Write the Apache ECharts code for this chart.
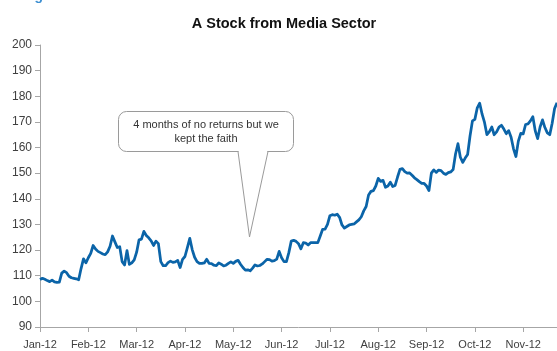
<!DOCTYPE html>
<html>
<head>
<meta charset="utf-8">
<script src="https://cdn.jsdelivr.net/npm/echarts@6/dist/echarts.min.js"></script>
<style>
  html, body { margin: 0; padding: 0; background: #fff; }
  #chart { width: 557px; height: 351px; }
</style>
</head>
<body>
<div id="chart"></div>
<script>
// Month tick labels along the time axis
const months = ['Jan-12', 'Feb-12', 'Mar-12', 'Apr-12', 'May-12', 'Jun-12',
                'Jul-12', 'Aug-12', 'Sep-12', 'Oct-12', 'Nov-12', 'Dec-12'];
// Trading sessions shown per month on the axis
const sessionsPerMonth = 20;

// Daily closing prices
const prices = [
  108.5, 109.0, 108.6, 108.1, 107.7, 108.3, 107.6, 107.4, 107.5, 111.0,
  111.8, 111.2, 109.8, 109.2, 109.0, 108.8, 108.4, 112.8, 116.6, 115.0,
  117.0, 118.7, 121.8, 120.4, 119.5, 119.0, 118.5, 118.2, 119.3, 121.5,
  125.5, 123.2, 121.0, 121.3, 115.5, 114.2, 119.8, 114.4, 115.0, 116.2,
  119.2, 124.0, 124.3, 127.3, 125.7, 124.8, 123.6, 121.8, 123.5, 122.5,
  115.5, 113.9, 113.9, 115.1, 115.7, 115.2, 115.4, 116.0, 113.2, 116.4,
  117.5, 121.0, 124.6, 120.2, 117.2, 115.5, 114.8, 114.8, 115.0, 116.4,
  114.8, 114.7, 114.1, 113.9, 115.0, 114.5, 113.8, 114.1, 114.8, 115.4,
  114.8, 115.6, 116.0, 114.5, 113.2, 112.2, 112.3, 111.9, 113.0, 114.2,
  113.8, 114.0, 114.6, 115.5, 116.4, 116.3, 115.7, 115.9, 116.5, 119.5,
  117.0, 115.5, 115.5, 119.0, 123.5, 123.8, 123.4, 122.5, 120.5, 122.9,
  122.7, 122.0, 122.9, 122.9, 122.9, 122.9, 125.5, 128.1, 128.2, 130.0,
  133.4, 133.8, 133.6, 134.0, 132.8, 129.8, 128.6, 129.2, 129.8, 130.0,
  130.2, 131.0, 131.8, 133.0, 135.3, 137.0, 141.5, 142.9, 143.2, 145.0,
  148.0, 146.8, 147.2, 144.5, 145.0, 146.5, 144.8, 145.2, 148.5, 151.5,
  151.8, 150.6, 150.0, 150.1, 149.2, 148.2, 147.5, 146.7, 146.0, 146.0,
  145.0, 143.2, 150.0, 151.3, 150.3, 151.2, 151.0, 150.0, 149.5, 150.2,
  150.5, 151.4, 157.5, 161.5, 156.2, 154.2, 155.9, 157.3, 164.5, 170.4,
  171.0, 175.5, 177.3, 173.0, 169.8, 165.0, 166.2, 168.0, 165.0, 166.1,
  168.0, 168.7, 167.2, 165.4, 166.6, 164.0, 159.5, 156.5, 162.5, 165.5,
  165.3, 169.0, 169.2, 170.4, 172.0, 166.5, 163.5, 168.0, 170.8, 167.8,
  165.7, 165.0, 169.5, 175.2, 177.5
];

// One category per session; the first session of each month carries the month name
const categories = prices.map((_, i) => {
  const m = months[Math.floor(i / sessionsPerMonth)];
  return i % sessionsPerMonth === 0 ? m : m + ' #' + (i % sessionsPerMonth + 1);
});

const annotationLines = ['4 months of no returns but we', 'kept the faith'];

const axisGrey = '#a6a6a6';
const labelColor = '#404040';
const fontFamily = 'Liberation Sans, Arial, sans-serif';
const bubbleStroke = '#9a9a9a';

const chart = echarts.init(document.getElementById('chart'), null, { renderer: 'canvas' });

chart.setOption({
  animation: false,
  backgroundColor: '#ffffff',
  title: {
    text: 'A Stock from Media Sector',
    left: 279,
    top: 11,
    textAlign: 'center',
    textStyle: { fontFamily, fontSize: 14.5, fontWeight: 'bold', color: '#111111' }
  },
  grid: { left: 40, right: 0, top: 45, bottom: 24, containLabel: false },
  xAxis: {
    type: 'category',
    data: categories,
    boundaryGap: false,
    axisLine: { lineStyle: { color: axisGrey, width: 1 } },
    axisTick: { interval: sessionsPerMonth - 1, length: 5, lineStyle: { color: axisGrey } },
    axisLabel: {
      interval: sessionsPerMonth - 1,
      margin: 12,
      color: labelColor,
      fontFamily,
      fontSize: 11,
      // month names only at month starts
      formatter: (value) => (months.indexOf(value) >= 0 ? value : '')
    },
    splitLine: { show: false }
  },
  yAxis: {
    type: 'value',
    min: 90,
    max: 200,
    interval: 10,
    axisLine: { show: true, lineStyle: { color: axisGrey, width: 1 } },
    axisTick: { show: true, length: 5, lineStyle: { color: axisGrey } },
    axisLabel: { margin: 8, color: labelColor, fontFamily, fontSize: 12 },
    splitLine: { show: false }
  },
  series: [{
    type: 'line',
    data: prices,
    showSymbol: false,
    smooth: false,
    lineStyle: { color: '#0b64a8', width: 2.75, join: 'round' },
    itemStyle: { color: '#0b64a8' }
  }],
  graphic: [
    {
      // Cut-off heading strip at the top-left corner
      type: 'text',
      x: 22,
      y: -11,
      style: { text: 'Figure', fill: '#3d8fd1', font: 'bold 14px ' + fontFamily }
    },
    {
      // Speech-bubble body
      type: 'rect',
      shape: { x: 118.5, y: 111.5, width: 175, height: 40, r: 8 },
      style: { fill: '#ffffff', stroke: bubbleStroke, lineWidth: 1 },
      z: 10
    },
    {
      // Fill of the pointer, hiding the body's bottom edge where it joins
      type: 'polygon',
      shape: { points: [[238.5, 150.5], [249.5, 236], [267.5, 150.5]] },
      style: { fill: '#ffffff' },
      z: 11
    },
    {
      // Pointer outline
      type: 'polyline',
      shape: { points: [[238, 151.5], [249.5, 237], [268, 151.5]] },
      style: { fill: null, stroke: bubbleStroke, lineWidth: 1 },
      z: 12
    },
    {
      type: 'text',
      x: 206,
      y: 118,
      z: 13,
      style: {
        text: annotationLines.join('\n'),
        fill: '#333333',
        font: '11px ' + fontFamily,
        align: 'center',
        lineHeight: 14
      }
    }
  ]
});
</script>
</body>
</html>
